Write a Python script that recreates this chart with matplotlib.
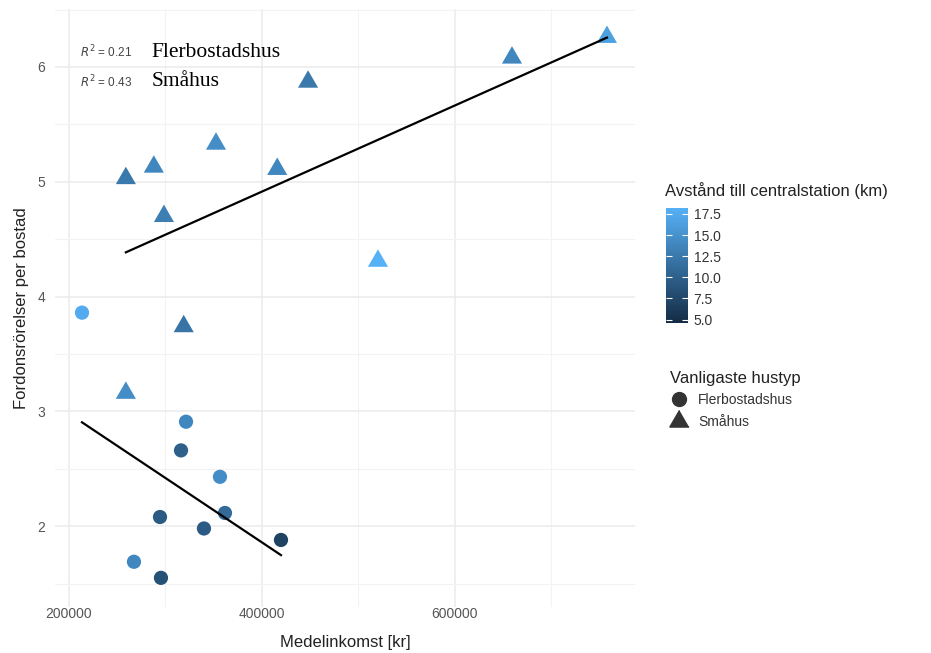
import matplotlib
matplotlib.use("Agg")
import matplotlib.pyplot as plt
import numpy as np
from matplotlib.colors import LinearSegmentedColormap, Normalize
from matplotlib.lines import Line2D

plt.rcParams['font.family'] = ['Liberation Sans', 'DejaVu Sans']

# Småhus (triangles)
smahus_income = [758000, 659500, 448000, 352500, 288000, 259000, 416000, 298500, 520500, 319000, 259000]
smahus_trips = [6.26, 6.08, 5.87, 5.33, 5.13, 5.03, 5.11, 4.70, 4.31, 3.74, 3.16]
smahus_dist = [16.5, 14.0, 12.5, 14.5, 14.0, 12.5, 14.0, 13.0, 18.2, 12.0, 14.5]

# Flerbostadshus (circles)
flerbo_income = [213500, 321400, 316200, 356600, 361800, 294400, 340000, 419900, 267400, 295400]
flerbo_trips = [3.86, 2.91, 2.66, 2.43, 2.115, 2.08, 1.98, 1.88, 1.69, 1.55]
flerbo_dist = [17.5, 14.0, 10.0, 14.5, 11.0, 9.5, 9.5, 7.0, 14.0, 8.5]

r2_labels = ["0.21", "0.43"]
group_names = ["Flerbostadshus", "Småhus"]

cmap = LinearSegmentedColormap.from_list("gg", ["#132B43", "#56B1F7"])
norm = Normalize(vmin=4.6, vmax=max(smahus_dist + flerbo_dist))

fig = plt.figure(figsize=(9.31, 6.53), dpi=100)
ax = fig.add_axes([55/931, 46/653, 580/931, 598/653])

# triangle marker (equilateral)
tri = [(0, 1), (-0.866, -0.5), (0.866, -0.5)]

ax.scatter(flerbo_income, flerbo_trips, c=flerbo_dist, cmap=cmap, norm=norm,
           s=105, marker='o', linewidths=0, zorder=2)
ax.scatter(smahus_income, smahus_trips, c=smahus_dist, cmap=cmap, norm=norm,
           s=280, marker=tri, linewidths=0, zorder=2)

# linear fits
for xs, ys in [(flerbo_income, flerbo_trips), (smahus_income, smahus_trips)]:
    xs = np.array(xs, dtype=float)
    ys = np.array(ys)
    k, m = np.polyfit(xs, ys, 1)
    xx = np.array([xs.min(), xs.max()])
    ax.plot(xx, k * xx + m, color='black', lw=1.6, zorder=3)

ax.set_xlim(185500, 787100)
ax.set_ylim(1.296, 6.505)
ax.set_xticks([200000, 400000, 600000])
ax.set_xticks([300000, 500000, 700000], minor=True)
ax.set_yticks([2, 3, 4, 5, 6])
ax.set_yticks([1.5, 2.5, 3.5, 4.5, 5.5, 6.5], minor=True)
ax.grid(which='major', color='#EBEBEB', lw=1.1)
ax.grid(which='minor', color='#F3F3F3', lw=0.8)
ax.set_axisbelow(True)
for s in ax.spines.values():
    s.set_visible(False)
ax.tick_params(which='both', length=0, labelsize=10, labelcolor='#555555')
ax.tick_params(axis='x', pad=0)
ax.tick_params(axis='y', pad=7)
ax.set_xlabel('Medelinkomst [kr]', fontsize=12, color='#222222', labelpad=10)
ax.set_ylabel('Fordonsrörelser per bostad', fontsize=12, color='#222222', labelpad=6)

# R² annotations
for i, (r2, name) in enumerate(zip(r2_labels, group_names)):
    yy = 0.928 - i * 0.05
    ax.text(0.043, yy, '$R^2$ = ' + r2, transform=ax.transAxes, fontsize=8.5,
            color='#444444', va='center', ha='left')
    ax.text(0.167, yy, name, transform=ax.transAxes, fontsize=15.5,
            family='Liberation Serif', color='black', va='center', ha='left')

# colour bar legend
fig.text(665/931, 1 - 191/653, 'Avstånd till centralstation (km)', fontsize=12,
         color='#222222', va='center', ha='left')
cax = fig.add_axes([666/931, 1 - 323/653, 22/931, 115/653])
sm = plt.cm.ScalarMappable(cmap=cmap, norm=norm)
cb = fig.colorbar(sm, cax=cax)
cb.outline.set_visible(False)
cb.set_ticks([5.0, 7.5, 10.0, 12.5, 15.0, 17.5])
cb.set_ticklabels(['5.0', '7.5', '10.0', '12.5', '15.0', '17.5'])
cax.tick_params(direction='in', color='white', length=4, width=0.8,
                left=True, right=True, labelsize=10, labelcolor='#333333', pad=4)

# shape legend
handles = [Line2D([], [], marker='o', color='#333333', ls='', markersize=10),
           Line2D([], [], marker=tri, color='#333333', ls='', markersize=16)]
leg = fig.legend(handles, group_names, loc='upper left',
                 bbox_to_anchor=(658/931, 1 - 358/653), frameon=False,
                 title='Vanligaste hustyp', title_fontsize=12, fontsize=10,
                 alignment='left', handlelength=1.2, handletextpad=0.8,
                 labelspacing=0.55)
leg.get_title().set_color('#222222')
for t in leg.get_texts():
    t.set_color('#333333')

plt.savefig('out.png', dpi=100)
